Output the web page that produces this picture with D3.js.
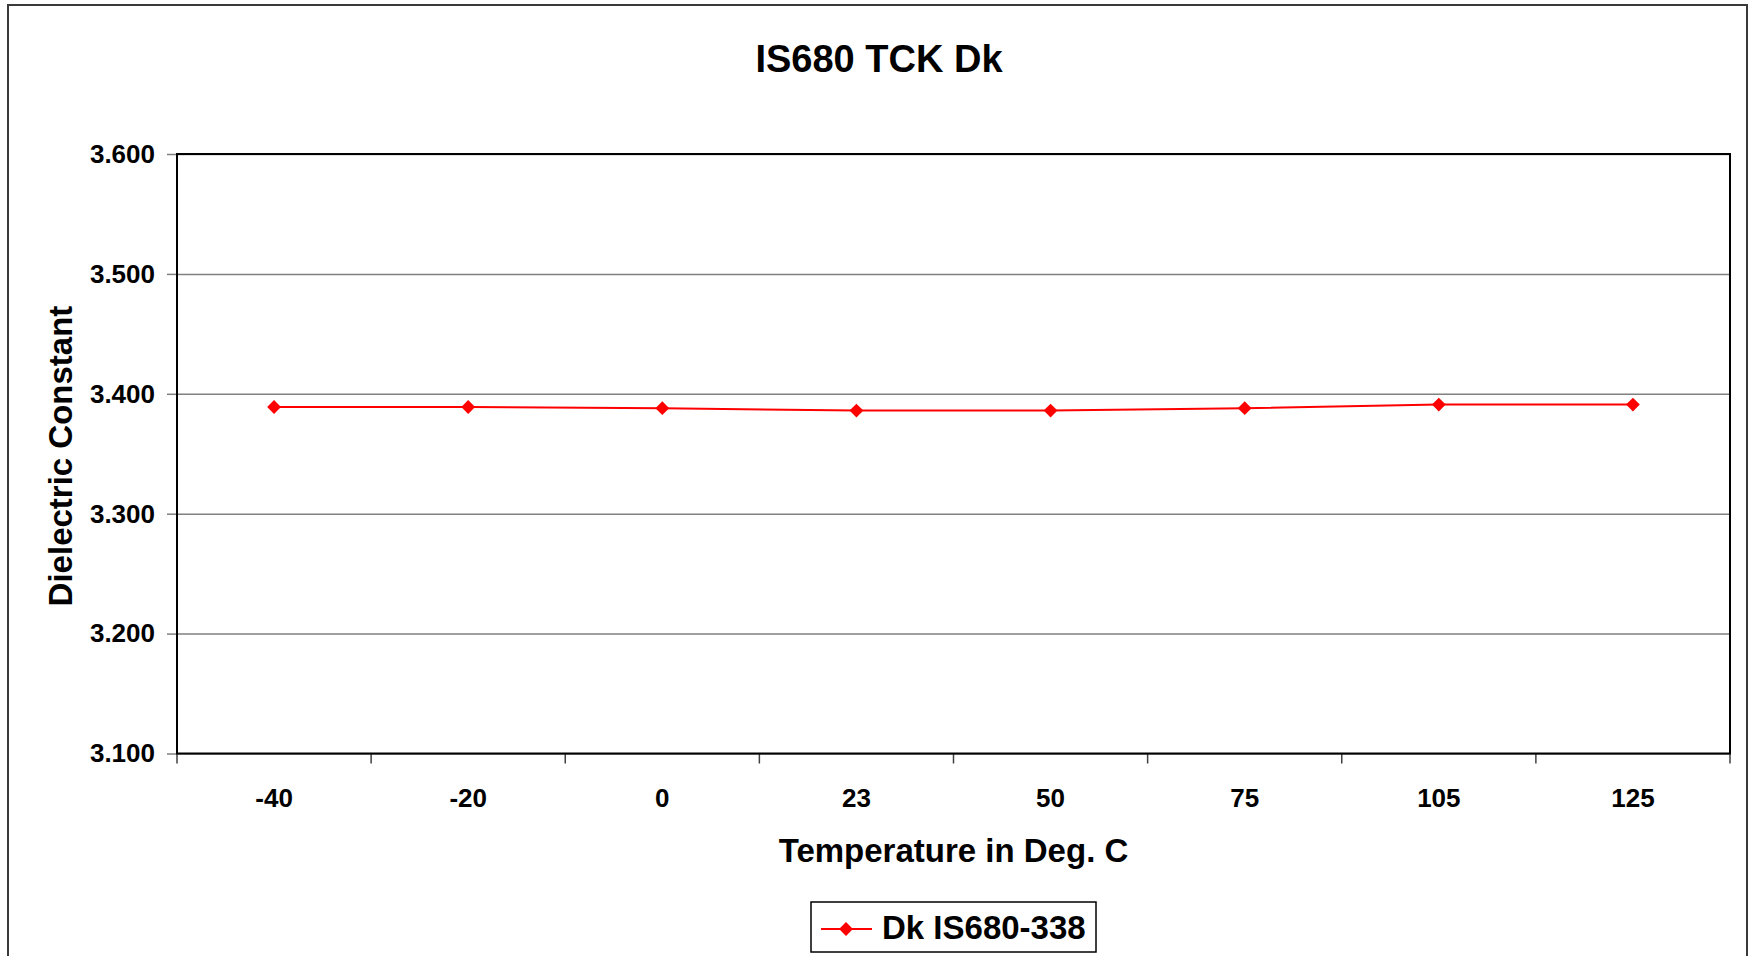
<!DOCTYPE html>
<html>
<head>
<meta charset="utf-8">
<script src="https://cdn.jsdelivr.net/npm/d3@7"></script>
<style>
  body { margin: 0; background: #fff; }
  svg { display: block; font-family: "Liberation Sans", Arial, sans-serif; font-weight: bold; }
</style>
</head>
<body>
<div id="chart"></div>
<script>
// chart values
const temps = ["-40", "-20", "0", "23", "50", "75", "105", "125"];
const dkValues = [3.389, 3.389, 3.388, 3.386, 3.386, 3.388, 3.391, 3.391];
const yTicks = [3.1, 3.2, 3.3, 3.4, 3.5, 3.6];
const seriesName = "Dk IS680-338";

const width = 1752, height = 956;
const plot = { left: 177, right: 1730, top: 154, bottom: 753.5 };

const svg = d3.select("#chart").append("svg")
  .attr("width", width)
  .attr("height", height);

// outer chart border
svg.append("rect")
  .attr("x", 8).attr("y", 5)
  .attr("width", 1739).attr("height", 1000)
  .attr("fill", "#fff")
  .attr("stroke", "#3a3a3a")
  .attr("stroke-width", 2);

const x = d3.scaleBand()
  .domain(temps)
  .range([plot.left, plot.right])
  .padding(0);

const y = d3.scaleLinear()
  .domain([3.1, 3.6])
  .range([plot.bottom, plot.top]);

// gridlines
svg.append("g")
  .attr("transform", "translate(" + plot.left + ",0)")
  .call(d3.axisLeft(y).tickValues(yTicks).tickSize(-(plot.right - plot.left)).tickFormat(""))
  .call(g => g.select(".domain").remove())
  .selectAll("line")
  .attr("stroke", "#808080")
  .attr("stroke-width", 1.5);

// y axis
svg.append("g")
  .attr("transform", "translate(" + plot.left + ",0)")
  .call(d3.axisLeft(y).tickValues(yTicks).tickSize(10).tickPadding(12).tickFormat(d3.format(".3f")))
  .call(g => g.select(".domain").remove())
  .call(g => g.selectAll("line").attr("stroke", "#808080").attr("stroke-width", 1.5))
  .selectAll("text")
  .attr("font-size", 26)
  .attr("font-family", "Liberation Sans, Arial, sans-serif")
  .attr("font-weight", "bold")
  .attr("fill", "#000");

// x axis labels
svg.append("g")
  .attr("transform", "translate(0," + plot.bottom + ")")
  .call(d3.axisBottom(x).tickSize(0).tickPadding(35))
  .call(g => g.select(".domain").remove())
  .selectAll("text")
  .attr("font-size", 26)
  .attr("font-family", "Liberation Sans, Arial, sans-serif")
  .attr("font-weight", "bold")
  .attr("fill", "#000");

// x axis ticks at category boundaries
const bounds = temps.map(d => x(d)).concat([x.range()[1]]);
svg.append("g").selectAll("line")
  .data(bounds)
  .enter()
  .append("line")
  .attr("x1", d => d).attr("x2", d => d)
  .attr("y1", plot.bottom).attr("y2", plot.bottom + 10)
  .attr("stroke", "#404040")
  .attr("stroke-width", 1.5);

// plot frame
svg.append("rect")
  .attr("x", plot.left).attr("y", plot.top)
  .attr("width", plot.right - plot.left)
  .attr("height", plot.bottom - plot.top)
  .attr("fill", "none")
  .attr("stroke", "#000")
  .attr("stroke-width", 2);

// series line
const pts = temps.map((t, i) => ({ t: t, v: dkValues[i] }));
const line = d3.line()
  .x(d => x(d.t) + x.bandwidth() / 2)
  .y(d => y(d.v));

svg.append("path")
  .datum(pts)
  .attr("d", line)
  .attr("fill", "none")
  .attr("stroke", "#ff0000")
  .attr("stroke-width", 2);

const diamond = d3.symbol().type(d3.symbolSquare).size(95);
svg.selectAll(".marker")
  .data(pts)
  .enter()
  .append("path")
  .attr("class", "marker")
  .attr("d", diamond)
  .attr("transform", d => "translate(" + (x(d.t) + x.bandwidth() / 2) + "," + y(d.v) + ") rotate(45)")
  .attr("fill", "#ff0000");

// title
svg.append("text")
  .attr("x", 879).attr("y", 72)
  .attr("text-anchor", "middle")
  .attr("font-size", 38)
  .text("IS680 TCK Dk");

// axis titles
svg.append("text")
  .attr("x", (plot.left + plot.right) / 2).attr("y", 862)
  .attr("text-anchor", "middle")
  .attr("font-size", 33)
  .text("Temperature in Deg. C");

svg.append("text")
  .attr("transform", "translate(72," + 456 + ") rotate(-90)")
  .attr("text-anchor", "middle")
  .attr("font-size", 33)
  .text("Dielectric Constant");

// legend
const lg = svg.append("g");
lg.append("rect")
  .attr("x", 811).attr("y", 902)
  .attr("width", 285).attr("height", 50)
  .attr("fill", "#fff")
  .attr("stroke", "#000")
  .attr("stroke-width", 1.5);
lg.append("line")
  .attr("x1", 821).attr("x2", 872)
  .attr("y1", 929).attr("y2", 929)
  .attr("stroke", "#ff0000")
  .attr("stroke-width", 2);
lg.append("path")
  .attr("d", diamond)
  .attr("transform", "translate(846,929) rotate(45)")
  .attr("fill", "#ff0000");
lg.append("text")
  .attr("x", 882).attr("y", 939)
  .attr("font-size", 33)
  .text(seriesName);
</script>
</body>
</html>
